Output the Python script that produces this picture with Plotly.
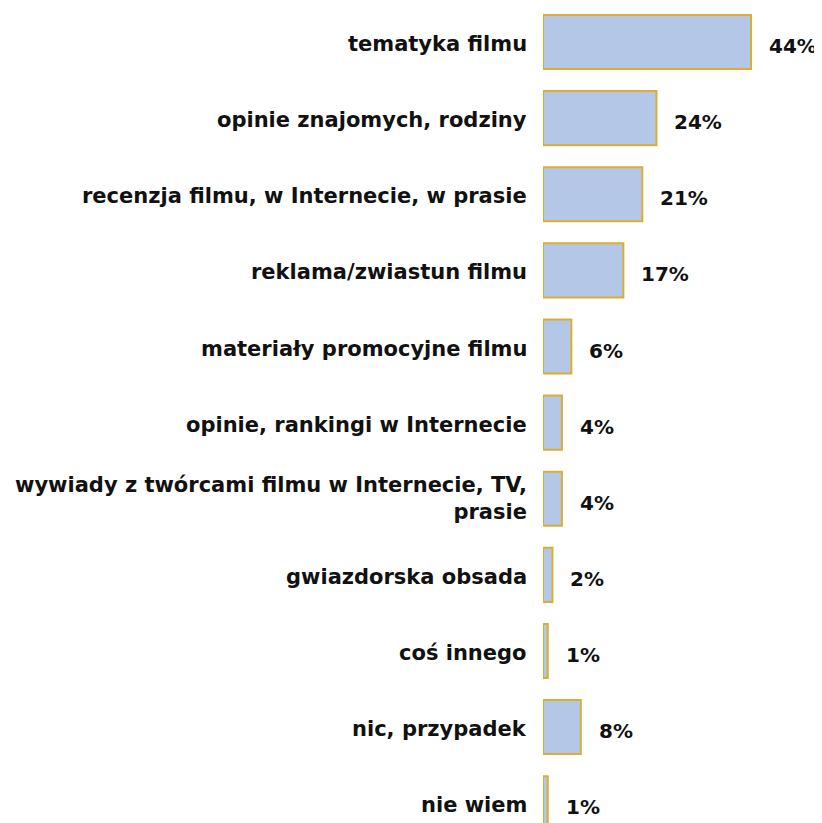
import plotly.graph_objects as go

categories = [
    "tematyka filmu",
    "opinie znajomych, rodziny",
    "recenzja filmu, w Internecie, w prasie",
    "reklama/zwiastun filmu",
    "materiały promocyjne filmu",
    "opinie, rankingi w Internecie",
    "wywiady z twórcami filmu w Internecie, TV,<br>prasie",
    "gwiazdorska obsada",
    "coś innego",
    "nic, przypadek",
    "nie wiem",
]
values = [44, 24, 21, 17, 6, 4, 4, 2, 1, 8, 1]
value_labels = ["44%", "24%", "21%", "17%", "6%", "4%", "4%", "2%", "1%", "8%", "1%"]

FONT = "DejaVu Sans"

fig = go.Figure()
fig.add_trace(go.Bar(
    x=values,
    y=categories,
    orientation="h",
    width=0.71,
    marker=dict(color="#b4c7e7", line=dict(color="#d9ae35", width=2)),
    hoverinfo="skip",
))

for c, v, t in zip(categories, values, value_labels):
    fig.add_annotation(
        x=v, y=c, text=t, showarrow=False,
        xanchor="left", yanchor="middle",
        xshift=16, yshift=-4,
        font=dict(family=FONT, size=20, color="#111111", weight="bold"),
    )
    fig.add_annotation(
        x=0, y=c, text=c, showarrow=False,
        xanchor="right", yanchor="middle", align="right",
        xshift=-14, yshift=-2 if "<br>" not in c else 0,
        font=dict(family=FONT, size=21, color="#111111", weight="bold"),
    )

fig.update_layout(
    width=814, height=815,
    margin=dict(l=535, r=0, t=0, b=0),
    plot_bgcolor="white", paper_bgcolor="white",
    showlegend=False,
    font=dict(family=FONT, size=21, color="#111111"),
)
fig.update_xaxes(range=[0, 59], visible=False, showgrid=False, zeroline=False)
fig.update_yaxes(
    categoryorder="array", categoryarray=categories,
    range=[10.26, -0.447],
    showgrid=False, zeroline=False, showline=False,
    showticklabels=False, ticks="",
    automargin=False,
)

fig.write_html("out.html")
